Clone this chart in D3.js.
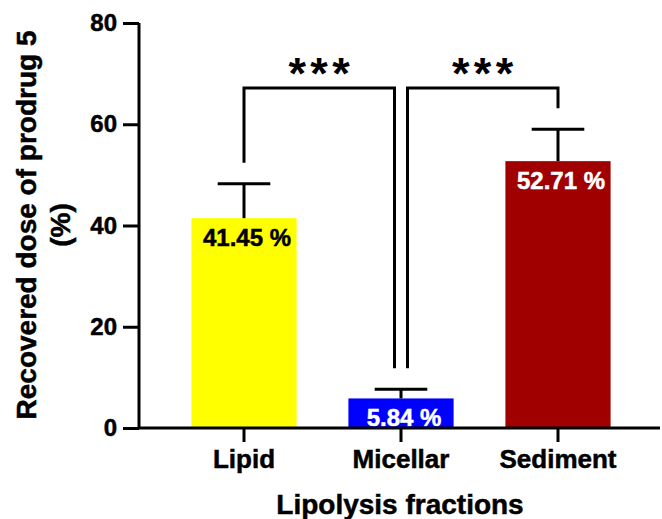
<!DOCTYPE html>
<html>
<head>
<meta charset="utf-8">
<script src="https://cdn.jsdelivr.net/npm/d3@7"></script>
<style>
  html, body { margin: 0; padding: 0; background: #fff; }
  svg { display: block; }
  text { font-family: "Liberation Sans", Arial, sans-serif; font-weight: bold; }
</style>
</head>
<body>
<svg id="chart" width="662" height="519"></svg>
<script>
const categories = ["Lipid", "Micellar", "Sediment"];
const means = [41.45, 5.84, 52.71];
const errors = [6.8, 1.8, 6.3];
const valueLabels = ["41.45 %", "5.84 %", "52.71 %"];
const barColors = ["#ffff00", "#0000ff", "#a00000"];
const labelColors = ["#000000", "#ffffff", "#ffffff"];
const yTicks = [0, 20, 40, 60, 80];
const comparisons = [
  { from: 0, to: 1, label: "***" },
  { from: 1, to: 2, label: "***" }
];

const svg = d3.select("#chart");
const axisX = 139, axisY = 428;
const thick = (sel, col) => sel.attr("stroke", col).attr("stroke-width", 0.5).attr("paint-order", "stroke");

const y = d3.scaleLinear().domain([0, 80]).range([axisY, 23]);
const x = d3.scaleBand().domain(categories).range([165.5, 636.5])
  .paddingInner(0.33).paddingOuter(0.165);

// Bars
svg.selectAll("rect.bar").data(categories).enter().append("rect")
  .attr("class", "bar")
  .attr("x", d => x(d))
  .attr("width", x.bandwidth())
  .attr("y", (d, i) => y(means[i]))
  .attr("height", (d, i) => axisY - y(means[i]))
  .attr("fill", (d, i) => barColors[i]);

// Error bars
const cx = d => x(d) + x.bandwidth() / 2;
const capHalf = x.bandwidth() / 4;
const eg = svg.append("g").attr("stroke", "#000").attr("stroke-width", 3);
categories.forEach((c, i) => {
  eg.append("line").attr("x1", cx(c)).attr("x2", cx(c))
    .attr("y1", y(means[i])).attr("y2", y(means[i] + errors[i]));
  eg.append("line").attr("x1", cx(c) - capHalf).attr("x2", cx(c) + capHalf)
    .attr("y1", y(means[i] + errors[i])).attr("y2", y(means[i] + errors[i]));
});

// Value labels
const vl = svg.selectAll("text.val").data(categories).enter().append("text")
  .attr("class", "val")
  .attr("x", d => cx(d) + 3)
  .attr("y", (d, i) => y(means[i]) + 28)
  .attr("text-anchor", "middle")
  .attr("font-size", 24)
  .attr("fill", (d, i) => labelColors[i])
  .attr("stroke", (d, i) => labelColors[i]).attr("stroke-width", 0.5)
  .text((d, i) => valueLabels[i]);

// Significance brackets
const bracketY = 88;
const gap = 21;
const offs = 6.5;
const bg = svg.append("g").attr("fill", "none").attr("stroke", "#000").attr("stroke-width", 3);
comparisons.forEach(cmp => {
  const a = categories[cmp.from], b = categories[cmp.to];
  const xa = cx(a) + (cmp.from === 1 ? offs : 0);
  const xb = cx(b) - (cmp.to === 1 ? offs : 0);
  const ya = y(means[cmp.from] + errors[cmp.from]) - gap;
  const yb = y(means[cmp.to] + errors[cmp.to]) - gap;
  bg.append("path").attr("d", `M${xa},${ya}V${bracketY}H${xb}V${yb}`);
  svg.append("text")
    .attr("x", (xa + xb) / 2 + 2)
    .attr("y", 89)
    .attr("text-anchor", "middle")
    .attr("font-size", 45)
    .attr("letter-spacing", 4.4)
    .attr("fill", "#000")
    .text(cmp.label);
});

// Y axis
const yAxis = d3.axisLeft(y).tickValues(yTicks).tickSize(16).tickPadding(6);
const yg = svg.append("g").attr("transform", `translate(${axisX},0)`).call(yAxis);
yg.select(".domain").attr("d", `M0,${y(80)}V${axisY}`).attr("stroke-width", 3).attr("stroke", "#000");
yg.selectAll(".tick line").attr("stroke-width", 3).attr("stroke", "#000");
thick(yg.selectAll(".tick text").attr("font-size", 24).attr("fill", "#000")
  .attr("font-family", "'Liberation Sans', Arial, sans-serif").attr("font-weight", "bold"), "#000");

// X axis
const xAxis = d3.axisBottom(x).tickSize(14).tickPadding(8);
const xg = svg.append("g").attr("transform", `translate(0,${axisY})`).call(xAxis);
xg.select(".domain").attr("d", `M${axisX},0H660`).attr("stroke-width", 3).attr("stroke", "#000");
xg.selectAll(".tick line").attr("stroke-width", 3).attr("stroke", "#000");
thick(xg.selectAll(".tick text").attr("font-size", 26).attr("fill", "#000")
  .attr("font-family", "'Liberation Sans', Arial, sans-serif").attr("font-weight", "bold")
  .attr("dy", "0.71em"), "#000");

// Axis titles
thick(svg.append("text").attr("x", 400).attr("y", 514).attr("text-anchor", "middle")
  .attr("font-size", 28).attr("fill", "#000").text("Lipolysis fractions"), "#000");

const yt = svg.append("text").attr("transform", "translate(0,225) rotate(-90)")
  .attr("text-anchor", "middle").attr("font-size", 28).attr("fill", "#000");
thick(yt, "#000");
yt.append("tspan").attr("x", 0).attr("y", 36).text("Recovered dose of prodrug 5");
yt.append("tspan").attr("x", 0).attr("y", 70).text("(%)");
</script>
</body>
</html>
